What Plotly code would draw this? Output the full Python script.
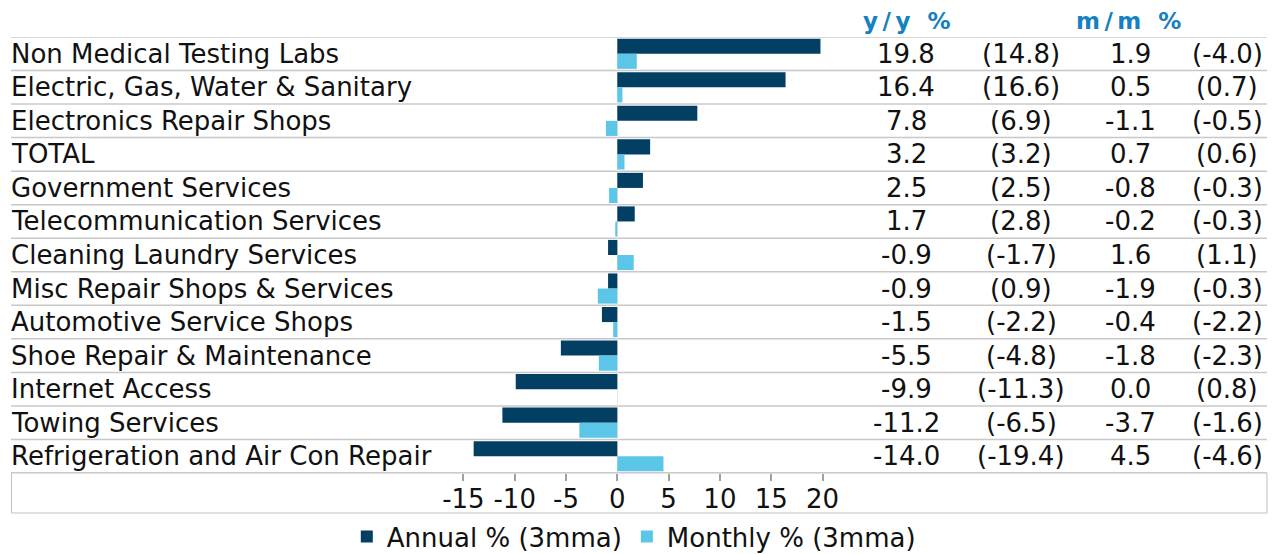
import plotly.graph_objects as go

categories = [
    "Non Medical Testing Labs",
    "Electric, Gas, Water & Sanitary",
    "Electronics Repair Shops",
    "TOTAL",
    "Government Services",
    "Telecommunication Services",
    "Cleaning Laundry Services",
    "Misc Repair Shops & Services",
    "Automotive Service Shops",
    "Shoe Repair & Maintenance",
    "Internet Access",
    "Towing Services",
    "Refrigeration and Air Con Repair",
]
annual = [19.8, 16.4, 7.8, 3.2, 2.5, 1.7, -0.9, -0.9, -1.5, -5.5, -9.9, -11.2, -14.0]
annual_prev = [14.8, 16.6, 6.9, 3.2, 2.5, 2.8, -1.7, 0.9, -2.2, -4.8, -11.3, -6.5, -19.4]
monthly = [1.9, 0.5, -1.1, 0.7, -0.8, -0.2, 1.6, -1.9, -0.4, -1.8, 0.0, -3.7, 4.5]
monthly_prev = [-4.0, 0.7, -0.5, 0.6, -0.3, -0.3, 1.1, -0.3, -2.2, -2.3, 0.8, -1.6, -4.6]
tick_vals = [-15, -10, -5, 0, 5, 10, 15, 20]
tick_text = ["-15", "-10", "-5", "0", "5", "10", "15", "20"]
headers = ["y/y %", "m/m %"]

W, H = 1283, 554
FONT = "DejaVu Sans"
FS = 26
DARK = "#023f63"
LIGHT = "#5bc6e8"
GRID = "#c8c8c8"

def px_x(p):
    return p / W

def px_y(p):
    return 1 - p / H

# axis scaling: 0 at 617.3px, 10.26 px per unit
zero_px, ppu = 617.3, 10.26
dom_l, dom_r = 440, 850
x_range = [(dom_l - zero_px) / ppu, (dom_r - zero_px) / ppu]
row_top, row_bot = 37, 473

fig = go.Figure()
fig.add_trace(go.Bar(y=categories, x=annual, orientation="h", name="Annual % (3mma)",
                     marker=dict(color=DARK, line=dict(width=0))))
fig.add_trace(go.Bar(y=categories, x=monthly, orientation="h", name="Monthly % (3mma)",
                     marker=dict(color=LIGHT, line=dict(width=0))))

shapes = []
n = len(categories)
for i in range(n + 1):
    shapes.append(dict(type="line", xref="paper", yref="y", x0=px_x(11), x1=px_x(1267),
                       y0=i - 0.5, y1=i - 0.5, line=dict(color=GRID, width=1.5), layer="below"))
shapes.append(dict(type="rect", xref="paper", yref="paper", x0=px_x(11.5), x1=px_x(1267),
                   y0=px_y(513), y1=px_y(row_bot), line=dict(color="#c0c0c0", width=1)))

annotations = []
col_x = [906, 1021, 1130, 1227]
for i, c in enumerate(categories):
    annotations.append(dict(x=px_x(9), y=c, xref="paper", yref="y", text=c, showarrow=False,
                            xanchor="left", yanchor="middle", font=dict(family=FONT, size=FS, color="#111")))
    vals = [f"{annual[i]:.1f}", f"({annual_prev[i]:.1f})", f"{monthly[i]:.1f}", f"({monthly_prev[i]:.1f})"]
    for cx, v in zip(col_x, vals):
        annotations.append(dict(x=px_x(cx), y=c, xref="paper", yref="y", text=v, showarrow=False,
                                xanchor="center", yanchor="middle",
                                font=dict(family=FONT, size=FS, color="#111")))
for hx, h in zip([909, 1131], headers):
    annotations.append(dict(x=px_x(hx), y=px_y(21), xref="paper", yref="paper",
                            text=f"<b><span style='letter-spacing:4.5px'>{h}</span></b>",
                            showarrow=False, xanchor="center", yanchor="middle",
                            font=dict(family=FONT, size=23, color="#1580c2")))

fig.update_layout(
    width=W, height=H, autosize=False,
    margin=dict(l=0, r=0, t=0, b=0, autoexpand=False),
    paper_bgcolor="white", plot_bgcolor="white",
    barmode="group", bargap=0.1, bargroupgap=0,
    font=dict(family=FONT, size=FS, color="#111"),
    xaxis=dict(domain=[px_x(dom_l), px_x(dom_r)], range=x_range, tickvals=tick_vals, ticktext=tick_text,
               ticks="outside", ticklen=7, tickcolor="#a0a0a0", tickwidth=1.5, ticklabelstandoff=-4,
               showgrid=False, zeroline=True, zerolinecolor="#e6e6e6", zerolinewidth=1,
               showline=False, tickfont=dict(family=FONT, size=FS, color="#111")),
    yaxis=dict(type="category", categoryorder="array", categoryarray=categories,
               range=[n - 0.5, -0.5], domain=[px_y(row_bot), px_y(row_top)],
               showticklabels=False, showgrid=False, zeroline=False, showline=False, ticks=""),
    legend=dict(orientation="h", x=0.494, xanchor="center", y=-6 / H, yanchor="bottom",
                bgcolor="rgba(0,0,0,0)",
                font=dict(family=FONT, size=FS, color="#111"), traceorder="normal",
                itemsizing="constant"),
    shapes=shapes, annotations=annotations,
)

fig.write_html("out.html", config={"displayModeBar": False},
               post_script="document.body.style.margin='0px';document.body.style.overflow='hidden';")
